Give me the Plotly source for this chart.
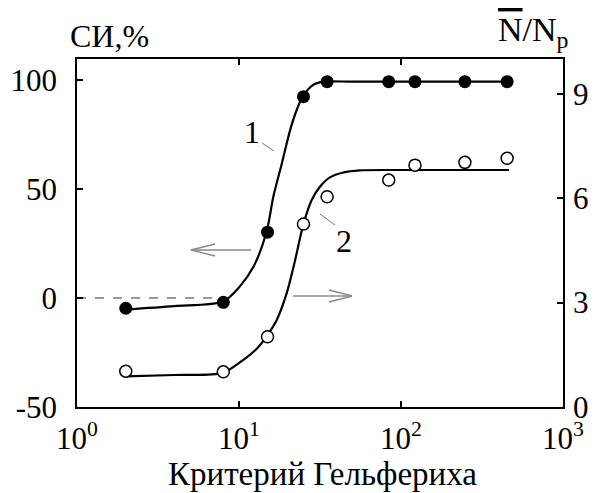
import plotly.graph_objects as go

# measured points
crit_x = [2, 8, 15, 25, 35, 84, 122, 248, 452]
si_pct = [-4.7, -2.0, 30.2, 92.3, 99.2, 99.2, 99.2, 99.2, 99.2]          # series 1 (left axis)
n_ratio = [1.03, 1.01, 2.02, 5.26, 6.04, 6.52, 6.95, 7.03, 7.15]          # series 2 (right axis)

# fitted curves
curve1_x = [1.96, 4.0, 8.0, 10.1, 12.3, 14.8, 16.3, 18.4, 20.7, 22.7, 24.7, 28.7, 33.1, 50, 100, 200, 464]
curve1_y = [-5.3, -3.7, -1.6, 5.2, 14.4, 30.4, 46.5, 61.8, 77.1, 86.2, 92.3, 97.7, 99.2, 99.2, 99.2, 99.2, 99.2]
curve2_x = [1.98, 4.0, 7.93, 10.6, 12.9, 14.8, 17.1, 19.7, 22.2, 24.9, 28.1, 31.6, 36.4, 44.0, 55.7, 100, 200, 464]
curve2_y = [0.88, 0.92, 0.98, 1.35, 1.68, 2.03, 2.50, 3.27, 4.22, 5.23, 5.95, 6.33, 6.60, 6.74, 6.80, 6.81, 6.81, 6.81]

zero_line_x = [1, 8]
zero_line_y = [0, 0]

x_tickvals = [1, 10, 100, 1000]
x_ticktext = ["10<sup>0</sup>", "10<sup>1</sup>", "10<sup>2</sup>", "10<sup>3</sup>"]
y_tickvals = [-50, 0, 50, 100]
y_ticktext = ["-50", "0", "50", "100"]
y2_tickvals = [0, 3, 6, 9]
y2_ticktext = ["0", "3", "6", "9"]

FONT = "Liberation Serif"
PAGE_OFF = 8                     # default body margin of the html page
W, H = 598 - PAGE_OFF, 493 - PAGE_OFF
L, R, T, B = 77, 563, 59, 407    # plot box in screen pixels

def px(x):
    return (x - L) / (R - L)

def py(y):
    return (B - y) / (B - T)

fig = go.Figure()

fig.add_trace(go.Scatter(x=zero_line_x, y=zero_line_y, mode="lines",
                         line=dict(color="#333", width=1, dash="dash"), showlegend=False))
fig.add_trace(go.Scatter(x=curve1_x, y=curve1_y, mode="lines",
                         line=dict(color="black", width=2.2, shape="spline", smoothing=0.8),
                         showlegend=False))
fig.add_trace(go.Scatter(x=curve2_x, y=curve2_y, mode="lines", yaxis="y2",
                         line=dict(color="black", width=2.2, shape="spline", smoothing=0.8),
                         showlegend=False))
fig.add_trace(go.Scatter(x=crit_x, y=si_pct, mode="markers",
                         marker=dict(color="black", size=13, line=dict(width=0)),
                         showlegend=False))
fig.add_trace(go.Scatter(x=crit_x, y=n_ratio, mode="markers", yaxis="y2",
                         marker=dict(color="white", size=12, line=dict(color="black", width=1.5)),
                         showlegend=False))

shapes = []
grey = "#8a8a8a"
def seg(x0, y0, x1, y1, color=grey, w=1.3):
    shapes.append(dict(type="line", xref="paper", yref="paper",
                       x0=px(x0), y0=py(y0), x1=px(x1), y1=py(y1),
                       line=dict(color=color, width=w)))

# left arrow
seg(251, 250, 191, 250)
seg(191, 250, 215, 244)
seg(191, 250, 215, 256)
# right arrow
seg(293, 296, 352, 296)
seg(352, 296, 329, 290)
seg(352, 296, 329, 302)
# leader lines
seg(262, 143, 274, 151, color="#777", w=1)
seg(320, 214, 335, 225, color="#777", w=1)

def ann(text, x, y, size):
    return dict(text=text, x=px(x), y=py(y), xref="paper", yref="paper",
                xanchor="center", yanchor="middle", showarrow=False,
                font=dict(family=FONT, size=size, color="black"))

annotations = [
    ann("СИ,%", 109, 36, 32),
    ann("<span style='text-decoration:overline'>N</span>/N<sub>p</sub>", 533, 32, 34),
    ann("Критерий Гельфериха", 322, 474, 33),
    ann("1", 252, 132, 32),
    ann("2", 344, 241, 32),
]

axis_common = dict(showgrid=False, zeroline=False, showline=True, linecolor="black",
                   linewidth=1.5, ticks="inside", tickcolor="black", tickwidth=1.5, ticklen=6,
                   automargin=False,
                   tickfont=dict(family=FONT, size=31, color="black"))

fig.update_layout(
    width=W, height=H,
    margin=dict(l=L - PAGE_OFF, r=598 - R, t=T - PAGE_OFF, b=493 - B, autoexpand=False),
    plot_bgcolor="white", paper_bgcolor="white",
    xaxis=dict(type="log", range=[0, 3], tickvals=x_tickvals, ticktext=x_ticktext,
               mirror="ticks", ticklabelstandoff=3, **axis_common),
    yaxis=dict(range=[-50, 109.6], tickvals=y_tickvals, ticktext=y_ticktext,
               ticklabelstandoff=12, **axis_common),
    yaxis2=dict(range=[0, 10], tickvals=y2_tickvals, ticktext=y2_ticktext,
                overlaying="y", side="right", ticklabelstandoff=2, **axis_common),
    shapes=shapes,
    annotations=annotations,
    showlegend=False,
)

fig.write_html("out.html")
